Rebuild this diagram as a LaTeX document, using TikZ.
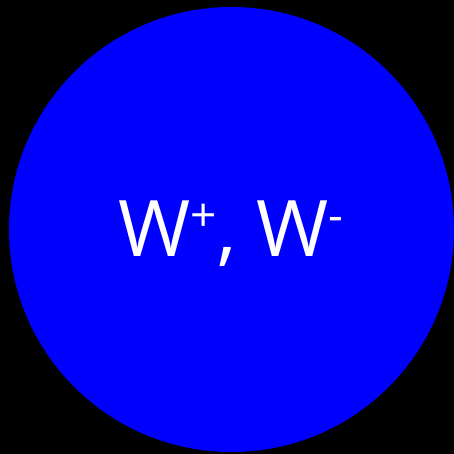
\documentclass[tikz,border=0pt]{standalone}
\usepackage{fontspec}
\setmainfont{Open Sans}
\usepackage{xcolor}
\definecolor{bosonblue}{RGB}{0,0,255}
\newcommand{\supsign}[1]{\raisebox{0.33em}{\fontsize{46}{46}\selectfont #1}}

\begin{document}
\begin{tikzpicture}[x=1pt, y=1pt]

% Background
\fill[black] (0,0) rectangle (454,454);
\useasboundingbox (0,0) rectangle (454,454);

% Boson circle
\node[circle, fill=bosonblue, minimum size=445pt, inner sep=0pt] (BOSON) at (231.5,224.5) {};

% Label
\node[text=white, font=\fontsize{78}{78}\selectfont, inner sep=0pt, anchor=base] (LABEL) at (231,197) {W\supsign{+}, W\supsign{-}};

\end{tikzpicture}
\end{document}
